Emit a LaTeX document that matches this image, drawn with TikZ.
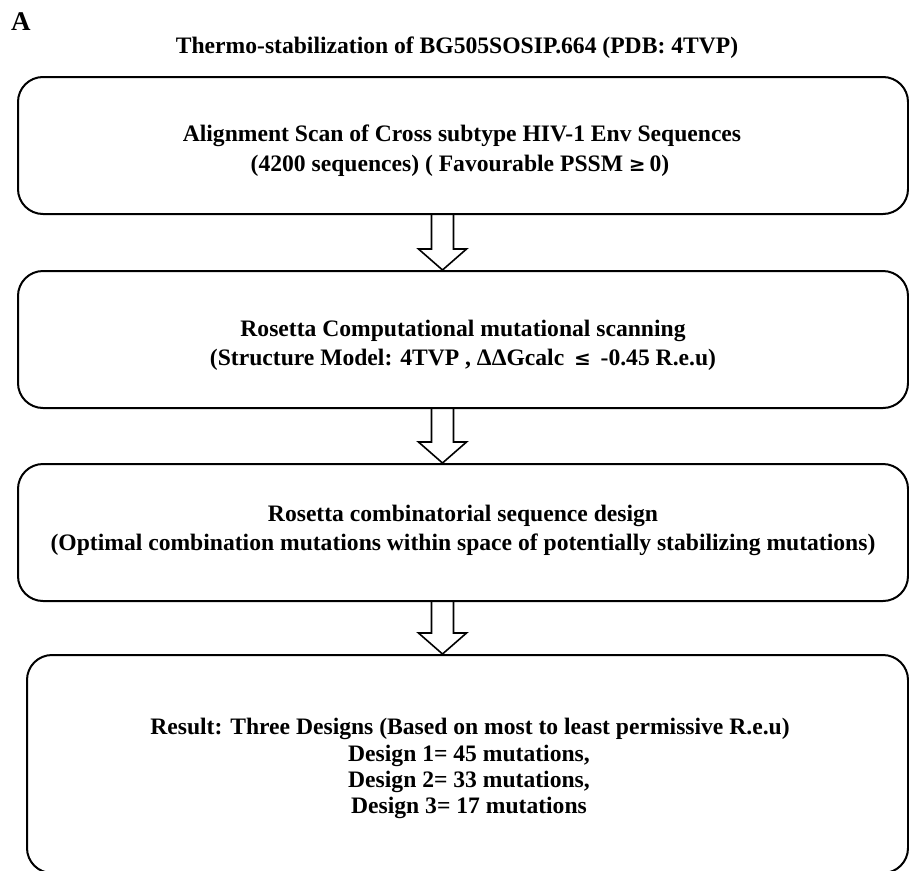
\documentclass[tikz,border=0pt]{standalone}
\usepackage{fontspec}
\setmainfont{Liberation Serif}
\usetikzlibrary{calc}
\begin{document}
\begin{tikzpicture}[x=1pt,y=-1pt,
  box/.style={draw, line width=2pt, rounded corners=25pt, inner sep=0pt},
  txt/.style={font=\fontsize{23.6}{28}\selectfont\bfseries, inner sep=0pt, anchor=base},
  blockarrow/.style={draw, line width=1.6pt, line join=miter}]
\useasboundingbox (0,0) rectangle (909,870);
\fill[white] (0,0) rectangle (909,870);

\node[txt, font=\fontsize{27}{30}\selectfont\bfseries, anchor=base west] (lab) at (11,30) {A};
\node[txt] (title) at (457,53) {Thermo-stabilization of BG505SOSIP.664 (PDB: 4TVP)};

\node[box, minimum width=890pt, minimum height=137pt] (b1) at (463,145.5) {};
\node[box, minimum width=890pt, minimum height=137pt] (b2) at (463,339.5) {};
\node[box, minimum width=890pt, minimum height=137pt] (b3) at (463,532.5) {};
\node[box, minimum width=881pt, minimum height=218pt] (b4) at (467.5,764) {};

\newcommand{\blkarrow}[2]{%
  \draw[blockarrow] let \p1=(#1.south), \p2=(#2.north) in
    (\x1-31.5pt,\y1) -- (\x1-31.5pt,\y2+21pt) -- (\x1-44.5pt,\y2+21pt) --
    (\x1-20.5pt,\y2) -- (\x1+3.5pt,\y2+21pt) -- (\x1-9.5pt,\y2+21pt) --
    (\x1-9.5pt,\y1);}
\blkarrow{b1}{b2}
\blkarrow{b2}{b3}
\blkarrow{b3}{b4}

\node[txt] (t1a) at (462,141) {Alignment Scan of Cross subtype HIV-1 Env Sequences};
\node[txt] (t1b) at (460,171) {(4200 sequences) ( Favourable PSSM {\fontspec{DejaVu Serif}\bfseries\fontsize{20}{24}\selectfont ≥}\,0)};

\node[txt] (t2a) at (463,336) {Rosetta Computational mutational scanning};
\node[txt] (t2b) at (463,365) {(Structure Model: 4TVP , ΔΔGcalc \,{\fontspec{DejaVu Serif}\bfseries\fontsize{20}{24}\selectfont ≤}\, -0.45 R.e.u)};

\node[txt] (t3a) at (463,521) {Rosetta combinatorial sequence design};
\node[txt] (t3b) at (463,550) {(Optimal combination mutations within space of potentially stabilizing mutations)};

\node[txt] (t4a) at (470,734) {Result: Three Designs (Based on most to least permissive R.e.u)};
\node[txt] (t4b) at (469,761) {Design 1= 45 mutations,};
\node[txt] (t4c) at (469,787) {Design 2= 33 mutations,};
\node[txt] (t4d) at (469,813) {Design 3= 17 mutations};
\end{tikzpicture}
\end{document}
